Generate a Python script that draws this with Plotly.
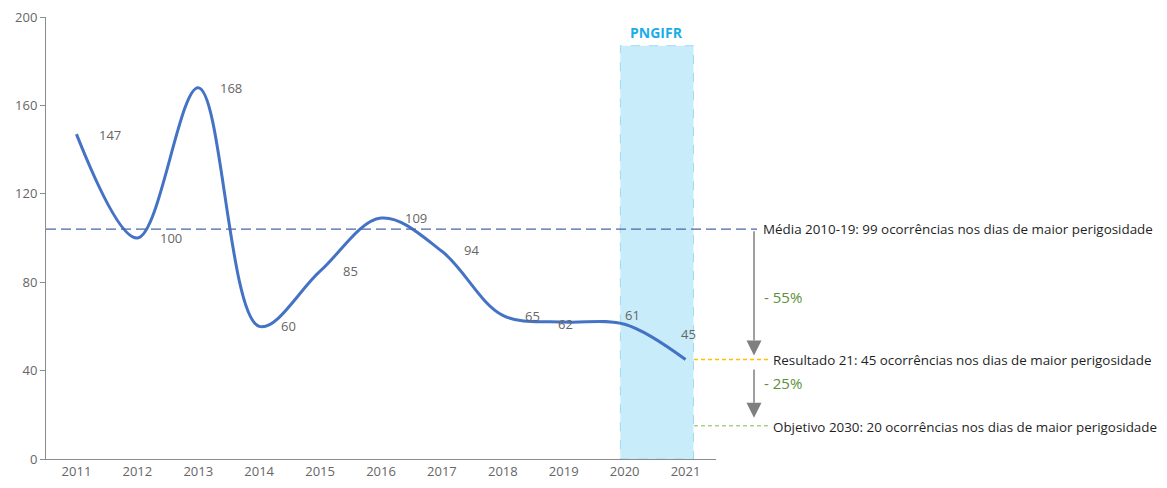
import plotly.graph_objects as go

years = [2011, 2012, 2013, 2014, 2015, 2016, 2017, 2018, 2019, 2020, 2021]
values = [147, 100, 168, 60, 85, 109, 94, 65, 62, 61, 45]
y_ticks = [0, 40, 80, 120, 160, 200]

mean_value = 104
result_value = 45
objective_value = 15
band_start, band_end, band_top = 2019.93, 2021.13, 187

mean_text = "Média 2010-19: 99 ocorrências nos dias de maior perigosidade"
result_text = "Resultado 21: 45 ocorrências nos dias de maior perigosidade"
objective_text = "Objetivo 2030: 20 ocorrências nos dias de maior perigosidade"
drop1_text = "- 55%"
drop2_text = "- 25%"
band_text = "PNGIFR"

# label offsets (pixels) for data labels: right shift, downward shift
label_dx = [34, 34, 33, 29, 30, 35, 30, 30, 2, 8, 3]
label_dy = [1, 0, 0, 0, 0, 0, -1, 1, 2, -9, -26]

FONT = "Open Sans"
Y_MAX = 200

def yp(v):
    return v / Y_MAX

# plot area in pixels: x 46..716, y 17..459
PW, PH = 670, 442
def xpx(px):
    return (px - 46) / PW

fig = go.Figure()

fig.add_trace(go.Scatter(
    x=years, y=values, mode="lines",
    line=dict(color="#4472C4", width=3, shape="spline", smoothing=1.0),
    hoverinfo="skip", showlegend=False,
))

shapes = []
shapes.append(dict(type="rect", xref="x", yref="y", x0=band_start, x1=band_end, y0=0, y1=band_top,
                   fillcolor="#C9ECFB", line=dict(color="#9ED9F2", width=1, dash="dash"), layer="below"))
shapes.append(dict(type="line", xref="paper", yref="paper", x0=0, x1=xpx(757), y0=yp(mean_value), y1=yp(mean_value),
                   line=dict(color="#4A67A6", width=1.2, dash="10px,5px"), layer="above"))
shapes.append(dict(type="line", xref="paper", yref="paper", x0=xpx(694), x1=xpx(769), y0=yp(result_value), y1=yp(result_value),
                   line=dict(color="#FFC000", width=1.5, dash="4px,3px")))
shapes.append(dict(type="line", xref="paper", yref="paper", x0=xpx(694), x1=xpx(769), y0=yp(objective_value), y1=yp(objective_value),
                   line=dict(color="#A9D18E", width=1.5, dash="4px,3px")))

def arrow(x_px, y_from, y_tip, head_len_px=15, half_w_px=7.5):
    xs = xpx(x_px)
    base = y_tip + head_len_px / PH
    hw = half_w_px / PW
    out = [dict(type="line", xref="paper", yref="paper", x0=xs, x1=xs, y0=y_from, y1=base,
                line=dict(color="#7F7F7F", width=1.5))]
    out.append(dict(type="path", xref="paper", yref="paper",
                    path=f"M {xs-hw} {base} L {xs+hw} {base} L {xs} {y_tip} Z",
                    fillcolor="#7F7F7F", line=dict(color="#7F7F7F", width=0)))
    return out

shapes += arrow(754, yp(mean_value) - 2 / PH, yp(result_value) + 4 / PH)
shapes += arrow(754, yp(result_value) - 10 / PH, yp(objective_value) + 8 / PH)

annotations = []
for yr, v, dx, dy in zip(years, values, label_dx, label_dy):
    annotations.append(dict(x=yr, y=v, xref="x", yref="y", text=str(v), showarrow=False,
                            xshift=dx, yshift=-dy, font=dict(family=FONT, size=13, color="#666666")))

annotations.append(dict(x=(band_start + band_end) / 2, y=band_top, xref="x", yref="y", text=f"<b>{band_text}</b>",
                        showarrow=False, yanchor="bottom", yshift=2, font=dict(family=FONT, size=14, color="#1AADE8")))

side = dict(family=FONT, size=13.4, color="#1F1F1F")
annotations.append(dict(x=xpx(761), y=yp(mean_value), xref="paper", yref="paper", text=mean_text,
                        showarrow=False, xanchor="left", yanchor="middle", font=side))
annotations.append(dict(x=xpx(771), y=yp(result_value), xref="paper", yref="paper", text=result_text,
                        showarrow=False, xanchor="left", yanchor="middle", font=side))
annotations.append(dict(x=xpx(771), y=yp(objective_value), xref="paper", yref="paper", text=objective_text,
                        showarrow=False, xanchor="left", yanchor="middle", yshift=-1, font=side))
green = dict(family=FONT, size=15, color="#5B8F3A")
annotations.append(dict(x=xpx(762), y=yp((mean_value + result_value) / 2), xref="paper", yref="paper", text=drop1_text,
                        showarrow=False, xanchor="left", yanchor="middle", yshift=-3, font=green))
annotations.append(dict(x=xpx(762), y=yp(result_value), xref="paper", yref="paper", text=drop2_text,
                        showarrow=False, xanchor="left", yanchor="middle", yshift=-23, font=green))

fig.update_layout(
    width=1167, height=488,
    margin=dict(l=46, r=451, t=17, b=29, autoexpand=False),
    paper_bgcolor="white", plot_bgcolor="white",
    shapes=shapes, annotations=annotations,
    showlegend=False,
    xaxis=dict(range=[2010.5, 2021.5], tickvals=years, ticktext=[str(y) for y in years], automargin=False,
               showgrid=False, zeroline=False, showline=True, linecolor="#8C8C8C", linewidth=1,
               ticks="", tickfont=dict(family=FONT, size=13, color="#666666")),
    yaxis=dict(range=[0, Y_MAX], tickvals=y_ticks, showgrid=False, zeroline=False, automargin=False,
               showline=True, linecolor="#8C8C8C", linewidth=1, ticks="outside", ticklen=5,
               tickcolor="#8C8C8C", tickfont=dict(family=FONT, size=13, color="#666666")),
)

fig.write_html("out.html", config={"displayModeBar": False},
               post_script="document.body.style.margin='0px';document.body.style.overflow='hidden';")
